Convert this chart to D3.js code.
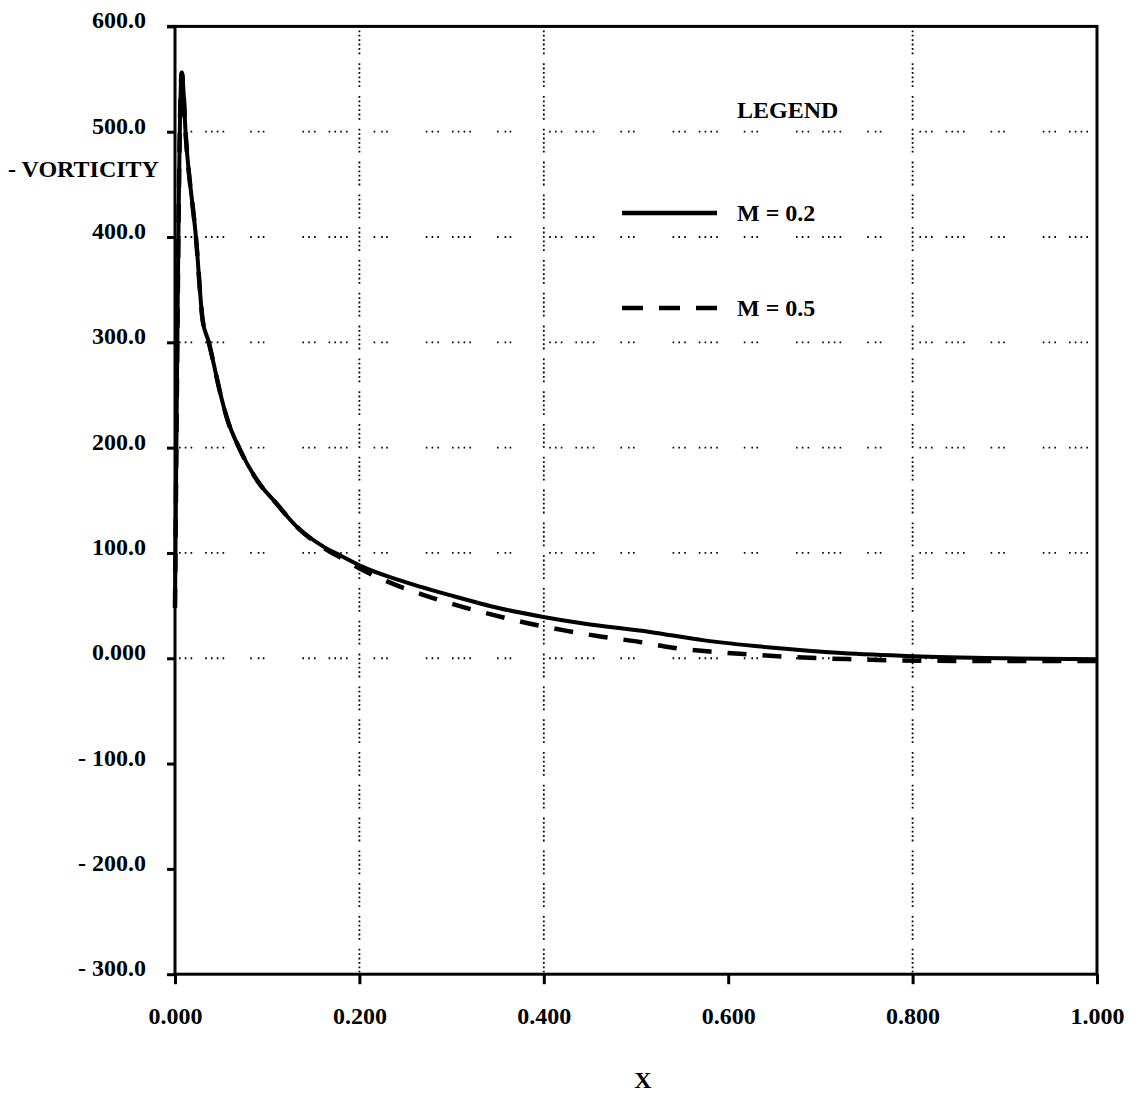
<!DOCTYPE html>
<html>
<head>
<meta charset="utf-8">
<script src="https://cdn.jsdelivr.net/npm/d3@7"></script>
<style>
  html, body { margin: 0; padding: 0; background: #fff; }
  svg { display: block; }
  text { font-family: "Liberation Serif", "Times New Roman", serif; font-weight: bold; fill: #000; }
</style>
</head>
<body>
<svg id="chart" width="1143" height="1097"></svg>
<script>
// Tick positions and their printed labels
const xTicks = [0, 0.2, 0.4, 0.6, 0.8, 1.0];
const xTickLabels = ["0.000", "0.200", "0.400", "0.600", "0.800", "1.000"];
const yTicks = [600, 500, 400, 300, 200, 100, 0, -100, -200, -300];
const yTickLabels = ["600.0", "500.0", "400.0", "300.0", "200.0", "100.0", "0.000", "- 100.0", "- 200.0", "- 300.0"];

// Dotted reference lines that are drawn inside the frame
const gridX = [0.2, 0.4, 0.8];
const gridY = [0, 100, 200, 300, 400, 500];

// Series: -vorticity along x for two Mach numbers
const seriesNames = ["M = 0.2", "M = 0.5"];
const xM02 = [0, 0.0073, 0.012, 0.023, 0.030, 0.036, 0.051, 0.056, 0.0705, 0.089, 0.110, 0.132, 0.161, 0.183, 0.203, 0.244, 0.298, 0.352, 0.398, 0.443, 0.515, 0.574, 0.649, 0.723, 0.800, 0.900, 1.000];
const vM02 = [48, 556, 492, 397, 321, 302, 245, 229, 198, 169, 147, 125, 106, 96, 87, 74, 60, 47.5, 39.5, 33, 25, 17, 10, 5, 2, 0, -1];
const xM05 = [0, 0.0073, 0.012, 0.023, 0.030, 0.036, 0.051, 0.056, 0.0705, 0.089, 0.110, 0.132, 0.161, 0.183, 0.203, 0.23, 0.27, 0.307, 0.346, 0.384, 0.422, 0.463, 0.504, 0.54, 0.585, 0.625, 0.66, 0.70, 0.74, 0.78, 0.85, 0.92, 1.000];
const vM05 = [48, 556, 492, 397, 321, 302, 245, 229, 198, 169, 147, 125, 105, 94, 84, 73, 60, 50, 41, 33, 26.5, 20.5, 15.5, 10, 6, 3.5, 1.5, 0, -1, -2, -2.5, -2.5, -2.5];

const svg = d3.select("#chart");
const frame = { left: 175, right: 1097, top: 26.4, bottom: 974.2 };

const x = d3.scaleLinear().domain([0, 1]).range([frame.left, frame.right]);
const y = d3.scaleLinear().domain([-300, 600]).range([frame.bottom, frame.top]);

// Dotted grid
const g = svg.append("g");
g.selectAll("line.gy").data(gridY).join("line")
  .attr("class", "gy")
  .attr("x1", frame.left + 4).attr("x2", frame.right - 4)
  .attr("y1", d => y(d)).attr("y2", d => y(d))
  .attr("stroke", "#000").attr("stroke-width", 1.8)
  .attr("stroke-dasharray", "1.6,4.2,1.6,4.2,1.6,13,1.6,4.2,1.6,4.2,1.6,4.2,1.6,26,1.6,6,1.6,3.4,1.6,38");
g.selectAll("line.gx").data(gridX).join("line")
  .attr("class", "gx")
  .attr("x1", d => x(d)).attr("x2", d => x(d))
  .attr("y1", frame.top + 4).attr("y2", frame.bottom - 2)
  .attr("stroke", "#000").attr("stroke-width", 1.8)
  .attr("stroke-dasharray", "1.8,2.6,1.8,2.6,1.8,2.6,1.8,2.6,1.8,2.6,1.8,9");

// Axes
const yAxis = d3.axisLeft(y).tickValues(yTicks)
  .tickFormat((d, i) => yTickLabels[i]).tickSizeInner(8).tickSizeOuter(0).tickPadding(21);
const ya = svg.append("g").attr("transform", `translate(${frame.left},0)`).call(yAxis);
ya.select(".domain").remove();
ya.selectAll(".tick line").attr("stroke-width", 3);
ya.selectAll(".tick text").attr("dy", "0.06em").style("font-size", "24px")
  .style("font-family", "'Liberation Serif', serif");

const xAxis = d3.axisBottom(x).tickValues(xTicks)
  .tickFormat((d, i) => xTickLabels[i]).tickSizeInner(10).tickSizeOuter(0);
const xa = svg.append("g").attr("transform", `translate(0,${frame.bottom})`).call(xAxis);
xa.select(".domain").remove();
xa.selectAll(".tick line").attr("stroke-width", 3);
xa.selectAll(".tick text").attr("y", 50).attr("dy", 0).style("font-size", "24px")
  .style("font-family", "'Liberation Serif', serif");

// Frame
svg.append("rect")
  .attr("x", frame.left).attr("y", frame.top)
  .attr("width", frame.right - frame.left).attr("height", frame.bottom - frame.top)
  .attr("fill", "none").attr("stroke", "#000").attr("stroke-width", 3);
svg.append("line").attr("x1", frame.left - 8).attr("x2", frame.left)
  .attr("y1", frame.top).attr("y2", frame.top).attr("stroke", "#000").attr("stroke-width", 3);

// Curves
const line = d3.line().x(d => x(d[0])).y(d => y(d[1])).curve(d3.curveMonotoneX);
const dataM02 = xM02.map((v, i) => [v, vM02[i]]);
const dataM05 = xM05.map((v, i) => [v, vM05[i]]);

svg.append("path").datum(dataM05)
  .attr("d", line).attr("fill", "none").attr("stroke", "#000")
  .attr("stroke-width", 4.5).attr("stroke-dasharray", "19,16");
svg.append("path").datum(dataM02)
  .attr("d", line).attr("fill", "none").attr("stroke", "#000")
  .attr("stroke-width", 4).attr("stroke-linejoin", "round");

// Axis titles
svg.append("text").attr("x", 8).attr("y", 177)
  .style("font-size", "24px").text("- VORTICITY");
svg.append("text").attr("x", 643).attr("y", 1088).attr("text-anchor", "middle")
  .style("font-size", "24px").text("X");

// Legend
const lg = svg.append("g");
lg.append("text").attr("x", 737).attr("y", 118).style("font-size", "24px").text("LEGEND");
const legendRows = [
  { name: seriesNames[0], y: 213, dash: null },
  { name: seriesNames[1], y: 308, dash: "21,16" }
];
legendRows.forEach(r => {
  lg.append("line").attr("x1", 622).attr("x2", 717).attr("y1", r.y).attr("y2", r.y)
    .attr("stroke", "#000").attr("stroke-width", 4.5)
    .attr("stroke-dasharray", r.dash);
  lg.append("text").attr("x", 737).attr("y", r.y + 7.5).style("font-size", "24px").text(r.name);
});
</script>
</body>
</html>
